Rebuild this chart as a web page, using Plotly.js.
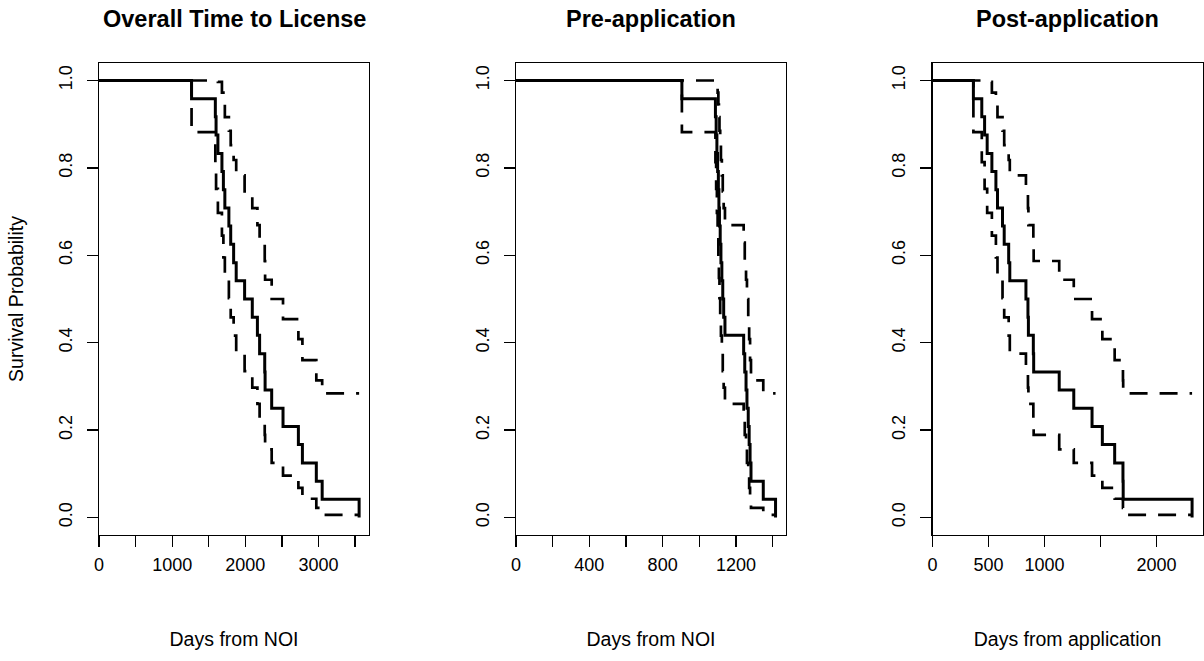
<!DOCTYPE html>
<html>
<head>
<meta charset="utf-8">
<script src="https://cdn.plot.ly/plotly-3.0.1.min.js"></script>
<style>
  html, body { margin: 0; padding: 0; background: #ffffff; }
  #chart { width: 1204px; height: 661px; }
</style>
</head>
<body>
<div id="chart"></div>
<script>
// ---- Data ----
const panelTitles = ["Overall Time to License", "Pre-application", "Post-application"];
const xTitles = ["Days from NOI", "Days from NOI", "Days from application"];
const yTitle = "Survival Probability";

// event times (days) for each panel, one entry per event (24 subjects)
const timesOverall = [1265,1590,1600,1625,1680,1700,1720,1775,1800,1840,1875,1990,2095,2165,2195,2265,2270,2360,2515,2725,2780,2970,3050,3555];
const timesPre     = [905,1088,1092,1096,1100,1104,1107,1110,1114,1118,1123,1128,1133,1140,1242,1248,1255,1260,1267,1272,1277,1282,1349,1416];
const timesPost    = [365,440,465,488,530,566,580,625,640,680,690,834,852,856,900,903,1131,1261,1424,1516,1626,1700,1702,2317];

// survival estimate after each event
const survival = [0.958,0.917,0.875,0.833,0.792,0.750,0.708,0.667,0.625,0.583,0.542,0.500,0.458,0.417,0.375,0.333,0.292,0.250,0.208,0.167,0.125,0.083,0.042,0.000];
// confidence band after each event (last interval keeps the previous value)
const upperCI = [1.000,1.000,1.000,0.997,0.972,0.945,0.916,0.885,0.852,0.818,0.783,0.746,0.708,0.669,0.629,0.587,0.544,0.500,0.454,0.408,0.360,0.314,0.284];
const lowerCI = [0.882,0.813,0.752,0.697,0.645,0.595,0.548,0.502,0.458,0.416,0.375,0.335,0.297,0.260,0.224,0.189,0.156,0.125,0.096,0.068,0.043,0.022,0.006];

// axis ticks
const xTickVals = [[0,500,1000,1500,2000,2500,3000,3500],[0,200,400,600,800,1000,1200,1400],[0,500,1000,1500,2000]];
const xTickText = [["0","","1000","","2000","","3000",""],["0","","400","","800","","1200",""],["0","500","1000","","2000"]];
const yTickVals = [0,0.2,0.4,0.6,0.8,1.0];
const yTickText = ["0.0","0.2","0.4","0.6","0.8","1.0"];
const xRanges = [[0,3690],[0,1473],[0,2410]];

// ---- Build ----
const W = 1204, H = 661;
const boxes = [[99,369],[516,786],[932.5,1202.5]];
const boxTop = 63, boxBottom = 535;
const allTimes = [timesOverall, timesPre, timesPost];
const FONT = "Liberation Sans, Arial, Helvetica, sans-serif";

const traces = [];
const layout = {
  width: W, height: H,
  margin: {l:0, r:0, t:0, b:0},
  paper_bgcolor: "#ffffff", plot_bgcolor: "#ffffff",
  showlegend: false, hovermode: false,
  font: {family: FONT, color: "#000000", size: 18},
  annotations: []
};

const dashStyle = "18px,12px";
for (let p = 0; p < 3; p++) {
  const sfx = p === 0 ? "" : String(p + 1);
  const xa = "x" + sfx, ya = "y" + sfx;
  const t = [0].concat(allTimes[p]);
  const s = [1].concat(survival);
  const up = [1].concat(upperCI, [upperCI[upperCI.length - 1]]);
  const lo = [1].concat(lowerCI, [lowerCI[lowerCI.length - 1]]);
  traces.push({x: t, y: up, xaxis: xa, yaxis: ya, mode: "lines",
    line: {shape: "hv", color: "#000000", width: 2.7, dash: dashStyle}});
  traces.push({x: t, y: lo, xaxis: xa, yaxis: ya, mode: "lines",
    line: {shape: "hv", color: "#000000", width: 2.7, dash: dashStyle}});
  traces.push({x: t, y: s, xaxis: xa, yaxis: ya, mode: "lines",
    line: {shape: "hv", color: "#000000", width: 3}});

  layout["xaxis" + sfx] = {
    domain: [boxes[p][0] / W, boxes[p][1] / W],
    anchor: ya, range: xRanges[p],
    tickmode: "array", tickvals: xTickVals[p], ticktext: xTickText[p],
    ticks: "outside", ticklen: 11, tickwidth: 1.3, tickcolor: "#000000",
    showline: true, mirror: true, linecolor: "#000000", linewidth: 1.3,
    showgrid: false, zeroline: false,
    tickfont: {family: FONT, size: 18, color: "#000000"},
    ticklabelstandoff: 2,
    title: {text: xTitles[p], font: {family: FONT, size: 19.5, color: "#000000"}, standoff: 58}
  };
  layout["yaxis" + sfx] = {
    domain: [1 - boxBottom / H, 1 - boxTop / H],
    anchor: xa, range: [-0.04, 1.04],
    tickmode: "array", tickvals: yTickVals, ticktext: yTickText,
    tickangle: -90,
    ticks: "outside", ticklen: 11, tickwidth: 1.3, tickcolor: "#000000",
    showline: true, mirror: true, linecolor: "#000000", linewidth: 1.3,
    showgrid: false, zeroline: false,
    tickfont: {family: FONT, size: 18, color: "#000000"},
    ticklabelstandoff: 8
  };
  if (p === 0) {
    layout["yaxis" + sfx].title = {text: yTitle, font: {family: FONT, size: 19.5, color: "#000000"}, standoff: 26};
  }
  layout.annotations.push({
    text: panelTitles[p], xref: "paper", yref: "paper",
    x: (boxes[p][0] + boxes[p][1]) / 2 / W, y: 1 - 19 / H,
    xanchor: "center", yanchor: "middle", showarrow: false,
    font: {family: FONT, size: 23.5, weight: "bold", color: "#000000"}
  });
}

Plotly.newPlot("chart", traces, layout, {staticPlot: true, displayModeBar: false});
</script>
</body>
</html>
